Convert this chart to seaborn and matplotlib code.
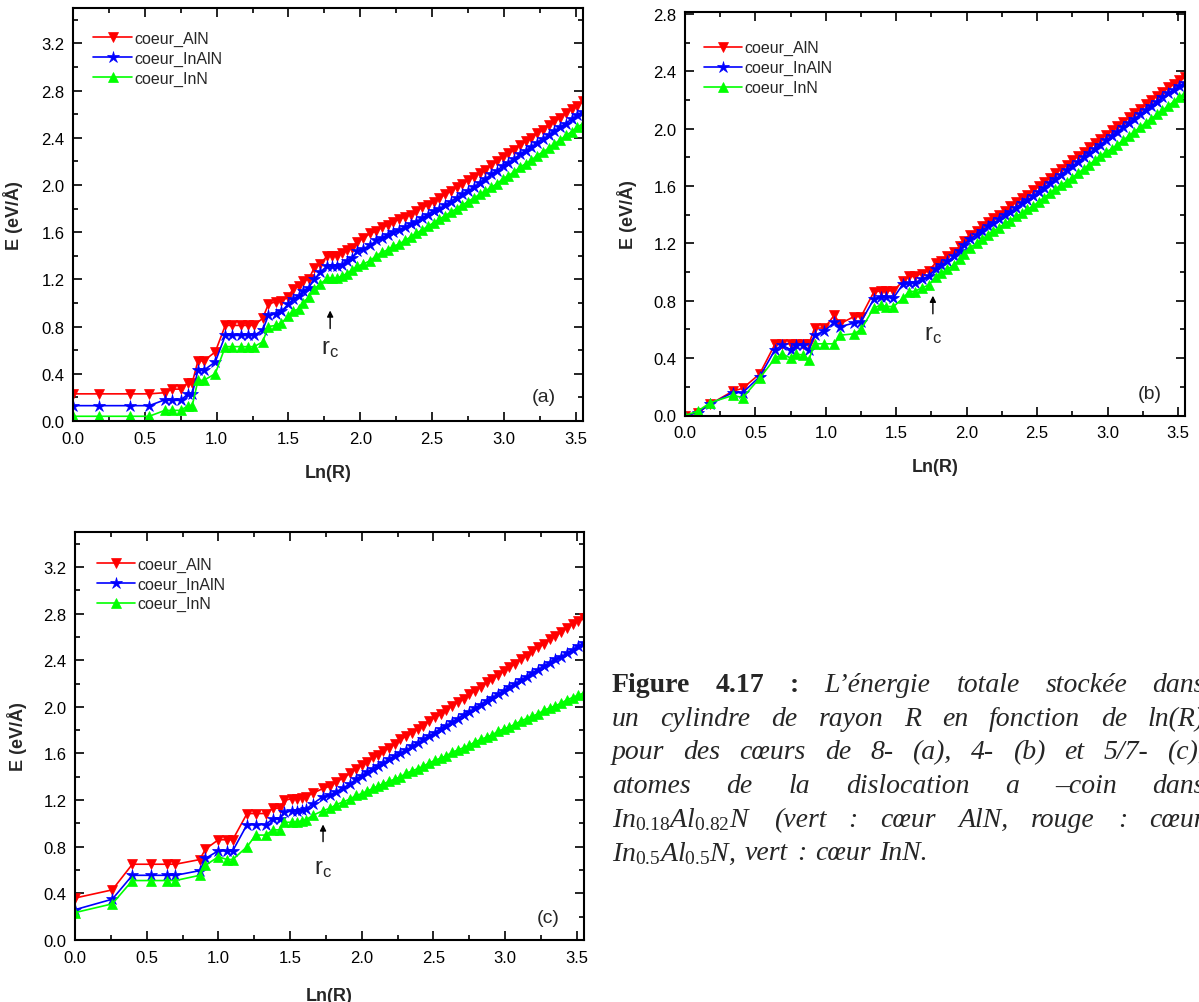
import matplotlib
matplotlib.use("Agg")
import matplotlib.pyplot as plt
import seaborn as sns
from matplotlib.ticker import MultipleLocator, FormatStrFormatter

# series of each panel
names = ["coeur_AlN", "coeur_InAlN", "coeur_InN"]
colors = ["#ff0000", "#0000ff", "#00ff00"]
markers = ["v", "*", "^"]

# common outer shells (linear part)
x_tail = [2.15, 2.19, 2.23, 2.27, 2.31, 2.35, 2.39, 2.43, 2.47, 2.51, 2.55, 2.59,
          2.63, 2.67, 2.71, 2.75, 2.79, 2.83, 2.87, 2.91, 2.95, 2.99, 3.03, 3.07,
          3.11, 3.15, 3.19, 3.23, 3.27, 3.31, 3.35, 3.39, 3.43, 3.47, 3.51, 3.55]

# (a) 8-atom core
x_a = [0.00, 0.18, 0.40, 0.53, 0.64, 0.69, 0.75, 0.80, 0.83, 0.87, 0.91, 0.99,
       1.06, 1.11, 1.17, 1.22, 1.26, 1.32, 1.36, 1.41, 1.45, 1.50, 1.53, 1.57,
       1.60, 1.64, 1.68, 1.72, 1.77, 1.80, 1.84, 1.87, 1.91, 1.94, 1.98, 2.02,
       2.07, 2.11]
aln_a = [0.23, 0.23, 0.23, 0.23, 0.24, 0.27, 0.27, 0.325, 0.325, 0.51, 0.51, 0.585,
         0.81, 0.81, 0.81, 0.81, 0.81, 0.87, 0.99, 1.01, 1.02, 1.05, 1.12, 1.145,
         1.19, 1.20, 1.30, 1.33, 1.40, 1.40, 1.40, 1.42, 1.45, 1.47, 1.52, 1.55,
         1.59, 1.61]
inaln_a = [0.13, 0.13, 0.13, 0.13, 0.18, 0.175, 0.175, 0.23, 0.23, 0.43, 0.43, 0.50,
           0.725, 0.725, 0.725, 0.725, 0.725, 0.77, 0.895, 0.91, 0.93, 0.99, 1.03, 1.06,
           1.10, 1.13, 1.20, 1.26, 1.315, 1.315, 1.315, 1.32, 1.36, 1.38, 1.44, 1.46,
           1.49, 1.53]
inn_a = [0.04, 0.04, 0.04, 0.04, 0.09, 0.09, 0.09, 0.13, 0.13, 0.345, 0.345, 0.40,
         0.63, 0.63, 0.63, 0.63, 0.63, 0.67, 0.80, 0.81, 0.83, 0.89, 0.93, 0.95,
         1.00, 1.05, 1.12, 1.16, 1.21, 1.21, 1.21, 1.23, 1.25, 1.28, 1.31, 1.33,
         1.36, 1.40]
aln_a_tail = [1.64, 1.66, 1.69, 1.71, 1.73, 1.75, 1.78, 1.81, 1.83, 1.86, 1.89, 1.92,
              1.95, 1.98, 2.01, 2.04, 2.07, 2.10, 2.13, 2.17, 2.20, 2.24, 2.27, 2.30,
              2.34, 2.37, 2.40, 2.44, 2.47, 2.51, 2.54, 2.57, 2.61, 2.64, 2.67, 2.71]
inaln_a_tail = [1.55, 1.58, 1.60, 1.62, 1.64, 1.67, 1.69, 1.72, 1.75, 1.78, 1.80, 1.83,
                1.86, 1.89, 1.92, 1.95, 1.98, 2.02, 2.05, 2.09, 2.12, 2.16, 2.19, 2.22,
                2.26, 2.29, 2.32, 2.36, 2.39, 2.42, 2.46, 2.49, 2.52, 2.56, 2.59, 2.62]
inn_a_tail = [1.43, 1.45, 1.48, 1.50, 1.53, 1.56, 1.59, 1.62, 1.65, 1.68, 1.71, 1.74,
              1.77, 1.80, 1.83, 1.86, 1.89, 1.92, 1.95, 1.98, 2.01, 2.05, 2.08, 2.11,
              2.15, 2.18, 2.21, 2.25, 2.28, 2.31, 2.35, 2.38, 2.42, 2.45, 2.49, 2.52]

# (b) 4-atom core
x_b = [0.00, 0.09, 0.18, 0.34, 0.41, 0.53, 0.64, 0.69, 0.75, 0.79, 0.84, 0.88,
       0.92, 0.99, 1.06, 1.10, 1.20, 1.25, 1.34, 1.39, 1.43, 1.48, 1.55, 1.59,
       1.63, 1.68, 1.73, 1.78, 1.82, 1.86, 1.91, 1.95, 1.98, 2.02, 2.07, 2.11]
aln_b = [0.0, 0.02, 0.08, 0.17, 0.19, 0.29, 0.50, 0.50, 0.50, 0.50, 0.50, 0.50,
         0.61, 0.61, 0.70, 0.64, 0.69, 0.69, 0.86, 0.87, 0.87, 0.87, 0.94, 0.97,
         0.97, 0.99, 1.01, 1.065, 1.08, 1.11, 1.14, 1.18, 1.22, 1.26, 1.29, 1.32]
inaln_b = [0.0, 0.02, 0.08, 0.16, 0.16, 0.27, 0.46, 0.49, 0.46, 0.49, 0.49, 0.46,
           0.56, 0.59, 0.65, 0.62, 0.645, 0.655, 0.81, 0.83, 0.83, 0.82, 0.92, 0.925,
           0.925, 0.95, 0.97, 1.025, 1.05, 1.075, 1.11, 1.15, 1.19, 1.23, 1.26, 1.29]
inn_b = [0.0, 0.03, 0.09, 0.14, 0.125, 0.26, 0.40, 0.43, 0.40, 0.43, 0.42, 0.39,
         0.50, 0.50, 0.50, 0.56, 0.57, 0.60, 0.75, 0.77, 0.76, 0.76, 0.82, 0.865,
         0.865, 0.89, 0.91, 0.965, 0.995, 1.02, 1.05, 1.09, 1.13, 1.17, 1.20, 1.23]
aln_b_tail = [1.35, 1.38, 1.40, 1.43, 1.46, 1.49, 1.52, 1.54, 1.57, 1.60, 1.63, 1.66,
              1.69, 1.72, 1.75, 1.78, 1.81, 1.84, 1.87, 1.90, 1.93, 1.96, 1.99, 2.02,
              2.05, 2.08, 2.11, 2.14, 2.17, 2.20, 2.23, 2.26, 2.29, 2.31, 2.34, 2.36]
inaln_b_tail = [1.32, 1.34, 1.37, 1.40, 1.42, 1.45, 1.48, 1.50, 1.53, 1.56, 1.59, 1.62,
                1.65, 1.68, 1.71, 1.74, 1.77, 1.80, 1.83, 1.86, 1.89, 1.92, 1.95, 1.98,
                2.01, 2.04, 2.07, 2.10, 2.13, 2.16, 2.19, 2.22, 2.25, 2.27, 2.30, 2.32]
inn_b_tail = [1.26, 1.29, 1.31, 1.34, 1.36, 1.39, 1.41, 1.44, 1.46, 1.49, 1.52, 1.55,
              1.58, 1.61, 1.63, 1.66, 1.69, 1.72, 1.75, 1.78, 1.81, 1.84, 1.86, 1.89,
              1.92, 1.95, 1.98, 2.01, 2.04, 2.07, 2.10, 2.13, 2.16, 2.19, 2.22, 2.25]

# (c) 5/7-atom core
x_c = [0.00, 0.26, 0.40, 0.53, 0.64, 0.70, 0.87, 0.91, 1.00, 1.06, 1.10, 1.20,
       1.26, 1.33, 1.38, 1.43, 1.46, 1.51, 1.55, 1.58, 1.61, 1.66, 1.73, 1.78,
       1.82, 1.87, 1.92, 1.96, 2.00, 2.04, 2.08, 2.11]
aln_c = [0.36, 0.43, 0.65, 0.65, 0.65, 0.65, 0.69, 0.78, 0.86, 0.86, 0.86, 1.085,
         1.085, 1.085, 1.13, 1.13, 1.20, 1.21, 1.21, 1.22, 1.23, 1.26, 1.30, 1.32,
         1.355, 1.39, 1.43, 1.47, 1.50, 1.53, 1.57, 1.59]
inaln_c = [0.26, 0.35, 0.555, 0.555, 0.555, 0.555, 0.595, 0.70, 0.765, 0.765, 0.765, 0.99,
           0.99, 0.99, 1.04, 1.04, 1.10, 1.105, 1.105, 1.115, 1.12, 1.17, 1.23, 1.24,
           1.27, 1.305, 1.34, 1.38, 1.41, 1.44, 1.47, 1.49]
inn_c = [0.235, 0.31, 0.51, 0.51, 0.51, 0.51, 0.555, 0.64, 0.715, 0.69, 0.69, 0.80,
         0.90, 0.90, 0.945, 0.945, 1.01, 1.01, 1.015, 1.02, 1.03, 1.07, 1.11, 1.13,
         1.16, 1.185, 1.21, 1.24, 1.255, 1.28, 1.30, 1.32]
aln_c_tail = [1.62, 1.65, 1.68, 1.72, 1.75, 1.78, 1.81, 1.84, 1.88, 1.91, 1.94, 1.97,
              2.01, 2.04, 2.07, 2.11, 2.14, 2.17, 2.21, 2.24, 2.27, 2.31, 2.34, 2.37,
              2.41, 2.44, 2.48, 2.51, 2.54, 2.58, 2.61, 2.64, 2.68, 2.71, 2.74, 2.76]
inaln_c_tail = [1.52, 1.55, 1.58, 1.60, 1.63, 1.66, 1.69, 1.72, 1.75, 1.78, 1.81, 1.84,
                1.87, 1.90, 1.93, 1.96, 1.99, 2.02, 2.05, 2.08, 2.11, 2.14, 2.17, 2.20,
                2.23, 2.26, 2.29, 2.32, 2.35, 2.38, 2.41, 2.43, 2.46, 2.49, 2.52, 2.55]
inn_c_tail = [1.34, 1.36, 1.38, 1.40, 1.43, 1.45, 1.47, 1.49, 1.52, 1.54, 1.56, 1.58,
              1.61, 1.63, 1.65, 1.67, 1.70, 1.72, 1.74, 1.76, 1.79, 1.81, 1.83, 1.85,
              1.88, 1.90, 1.92, 1.94, 1.97, 1.99, 2.01, 2.03, 2.06, 2.08, 2.10, 2.12]

sns.set_style("ticks")
plt.rcParams["font.family"] = ["Liberation Sans", "DejaVu Sans"]
plt.rcParams["mathtext.fontset"] = "custom"
plt.rcParams["mathtext.rm"] = "Liberation Serif"
plt.rcParams["mathtext.it"] = "Liberation Serif:italic"

W, H = 1199, 1003
fig = plt.figure(figsize=(W / 100, H / 100), dpi=100)


def px_axes(left, top, right, bottom):
    return fig.add_axes([left / W, 1 - bottom / H, (right - left) / W, (bottom - top) / H])


def panel(ax, x, ys, ytop, tag, tag_xy, rc, leg_xy, ylab_x, xlab_y):
    for y, name, c, m in zip(ys, names, colors, markers):
        sns.lineplot(x=x, y=y, ax=ax, color=c, marker=m, label=name, sort=False,
                     estimator=None, markersize=9 if m == "*" else 7,
                     markeredgecolor=c, markeredgewidth=0.5, linewidth=1.2)
    ax.set_xlim(0, 3.55)
    ax.set_ylim(0, ytop)
    ax.xaxis.set_major_locator(MultipleLocator(0.5))
    ax.xaxis.set_minor_locator(MultipleLocator(0.25))
    ax.yaxis.set_major_locator(MultipleLocator(0.4))
    ax.yaxis.set_minor_locator(MultipleLocator(0.2))
    ax.xaxis.set_major_formatter(FormatStrFormatter("%.1f"))
    ax.yaxis.set_major_formatter(FormatStrFormatter("%.1f"))
    ax.tick_params(which="both", direction="in", top=True, right=True,
                   width=1.2, labelsize=12, colors="black")
    ax.tick_params(which="major", length=6.5)
    ax.tick_params(which="minor", length=3.5)
    ax.tick_params(axis="x", which="major", pad=7)
    ax.tick_params(axis="y", which="major", pad=6)
    for s in ax.spines.values():
        s.set_linewidth(1.5)
        s.set_color("black")
    ax.set_xlabel("Ln(R)", fontweight="bold", fontsize=13)
    ax.set_ylabel("E (eV/Å)", fontweight="bold", fontsize=13)
    ax.yaxis.set_label_coords(ylab_x, 0.5)
    ax.xaxis.set_label_coords(0.5, xlab_y)
    ax.legend(loc="upper left", bbox_to_anchor=leg_xy, frameon=False, fontsize=11.5,
              borderpad=0, borderaxespad=0, handlelength=2.4, handletextpad=0.15,
              labelspacing=0.3, numpoints=1)
    rx, rtip, rtail, rlab = rc
    ax.annotate("", xy=(rx, rtip), xytext=(rx, rtail),
                arrowprops=dict(arrowstyle="-|>", color="black", lw=1, mutation_scale=9))
    ax.text(rx, rlab, r"$\mathregular{r_c}$", ha="center", va="center", fontsize=17)
    ax.text(tag_xy[0], tag_xy[1], tag, ha="center", va="center", fontsize=14)


ax_a = px_axes(73, 9, 583, 422)
panel(ax_a, x_a + x_tail,
      [aln_a + aln_a_tail, inaln_a + inaln_a_tail, inn_a + inn_a_tail],
      3.5, "(a)", (3.28, 0.21), (1.79, 0.96, 0.76, 0.62), (0.04, 0.945), -0.098, -0.104)

ax_b = px_axes(685, 13, 1185, 416.5)
panel(ax_b, x_b + x_tail,
      [aln_b + aln_b_tail, inaln_b + inaln_b_tail, inn_b + inn_b_tail],
      2.815, "(b)", (3.30, 0.15), (1.76, 0.855, 0.69, 0.57), (0.038, 0.93), -0.096, -0.105)

ax_c = px_axes(75, 533, 584, 941)
panel(ax_c, x_c + x_tail,
      [aln_c + aln_c_tail, inaln_c + inaln_c_tail, inn_c + inn_c_tail],
      3.5, "(c)", (3.30, 0.19), (1.73, 1.015, 0.82, 0.62), (0.043, 0.94), -0.094, -0.115)

# caption, justified like the source document (it runs past the right edge there too)
B, I = "bold", "italic"
caption = [
    [("Figure", B), ("4.17", B), (":", B), ("L’énergie", I), ("totale", I),
     ("stockée", I), ("dans", I)],
    [("un", I), ("cylindre", I), ("de", I), ("rayon", I), ("R", I), ("en", I),
     ("fonction", I), ("de", I), ("ln(R)", I)],
    [("pour", I), ("des", I), ("cœurs", I), ("de", I), ("8-", I), ("(a),", I),
     ("4-", I), ("(b)", I), ("et", I), ("5/7-", I), ("(c),", I)],
    [("atomes", I), ("de", I), ("la", I), ("dislocation", I), ("a", I), ("–coin", I),
     ("dans", I)],
    [(r"$\mathit{In}_{\mathit{0.18}}\mathit{Al}_{\mathit{0.82}}\mathit{N}$", I),
     ("(vert", I), (":", I), ("cœur", I), ("AlN,", I), ("rouge", I), (":", I),
     ("cœur", I)],
    [(r"$\mathit{In}_{\mathit{0.5}}\mathit{Al}_{\mathit{0.5}}\mathit{N}$,", I),
     ("vert", I), (":", I), ("cœur", I), ("InN.", I)],
]
baselines = [692, 726, 759.5, 793, 827, 860.5]
cap_left, cap_right = 612, 1205
renderer = fig.canvas.get_renderer()
for words, base in zip(caption, baselines):
    texts = []
    for w, st in words:
        t = fig.text(0, 1 - base / H, w, fontsize=20, va="baseline", ha="left",
                     family=["Liberation Serif", "DejaVu Serif"],
                     fontweight="bold" if st == B else "normal",
                     fontstyle="italic" if st == I else "normal")
        texts.append(t)
    widths = [t.get_window_extent(renderer).width for t in texts]
    if base == baselines[-1]:
        gap = 9
    else:
        gap = (cap_right - cap_left - sum(widths)) / (len(texts) - 1)
    xpos = cap_left
    for t, wd in zip(texts, widths):
        t.set_x(xpos / W)
        xpos += wd + gap

fig.savefig("out.png", dpi=100, facecolor="white")
